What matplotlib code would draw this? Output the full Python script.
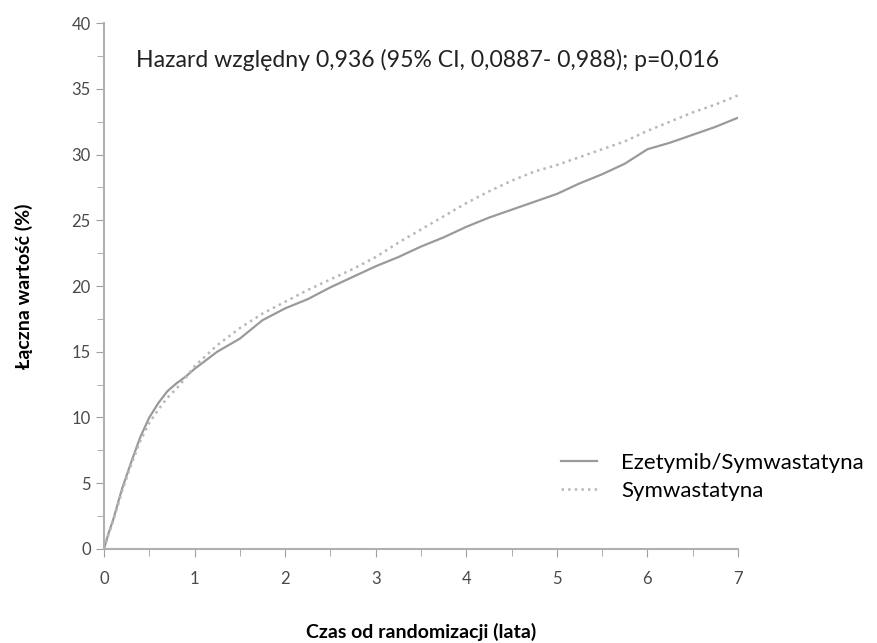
import matplotlib.pyplot as plt
from matplotlib.ticker import MultipleLocator

plt.rcParams['font.family'] = ['Lato', 'DejaVu Sans']

# dane
czas = [0, 0.05, 0.1, 0.2, 0.3, 0.4, 0.5, 0.6, 0.7, 0.8, 0.9, 1.0, 1.25, 1.5, 1.75,
        2.0, 2.25, 2.5, 2.75, 3.0, 3.25, 3.5, 3.75, 4.0, 4.25, 4.5, 4.75, 5.0,
        5.25, 5.5, 5.75, 6.0, 6.25, 6.5, 6.75, 7.0]
ezetymib = [0, 1.2, 2.2, 4.6, 6.6, 8.5, 10.0, 11.1, 12.0, 12.6, 13.1, 13.7, 15.0, 16.0, 17.4,
            18.3, 19.0, 19.9, 20.7, 21.5, 22.2, 23.0, 23.7, 24.5, 25.2, 25.8, 26.4, 27.0,
            27.8, 28.5, 29.3, 30.4, 30.9, 31.5, 32.1, 32.8]
symwastatyna = [0, 1.1, 2.1, 4.4, 6.4, 8.2, 9.6, 10.6, 11.5, 12.2, 13.0, 13.9, 15.5, 16.8, 17.9,
                18.8, 19.7, 20.5, 21.3, 22.2, 23.3, 24.3, 25.3, 26.3, 27.2, 28.0, 28.7, 29.2,
                29.8, 30.4, 31.0, 31.8, 32.5, 33.2, 33.8, 34.5]

fig = plt.figure(figsize=(8.77, 6.43), dpi=100)
ax = fig.add_axes([0.1186, 0.1462, 0.7229, 0.818])

ax.plot(czas, ezetymib, '-', color='#9a9a9a', lw=1.6, label='Ezetymib/Symwastatyna')
ax.plot(czas, symwastatyna, ':', color='#b8b8b8', lw=1.8, label='Symwastatyna')

ax.set_xlim(0, 7)
ax.set_ylim(0, 40)
ax.xaxis.set_major_locator(MultipleLocator(1))
ax.xaxis.set_minor_locator(MultipleLocator(0.5))
ax.yaxis.set_major_locator(MultipleLocator(5))
ax.yaxis.set_minor_locator(MultipleLocator(2.5))

for s in ['top', 'right']:
    ax.spines[s].set_visible(False)
for s in ['left', 'bottom']:
    ax.spines[s].set_color('#b0b0b0')
    ax.spines[s].set_linewidth(1.5)

ax.tick_params(which='both', colors='#a0a0a0', labelcolor='#4a4a4a', labelsize=12)
ax.tick_params(which='major', length=6)
ax.tick_params(which='minor', length=5)
ax.tick_params(axis='x', pad=10)

ax.text(0.35, 37.2, 'Hazard względny 0,936 (95% CI, 0,0887- 0,988); p=0,016',
        fontsize=16.6, color='#222222', va='center')

ax.set_ylabel('Łączna wartość (%)', fontsize=14, fontweight='bold', labelpad=28)
ax.set_xlabel('Czas od randomizacji (lata)', fontsize=14, fontweight='bold', labelpad=26)

ax.legend(loc='center left', bbox_to_anchor=(0.69, 0.137), frameon=False,
          fontsize=16, handlelength=1.6, handletextpad=1.1, labelspacing=0.35)

fig.savefig('out.png', dpi=100)
